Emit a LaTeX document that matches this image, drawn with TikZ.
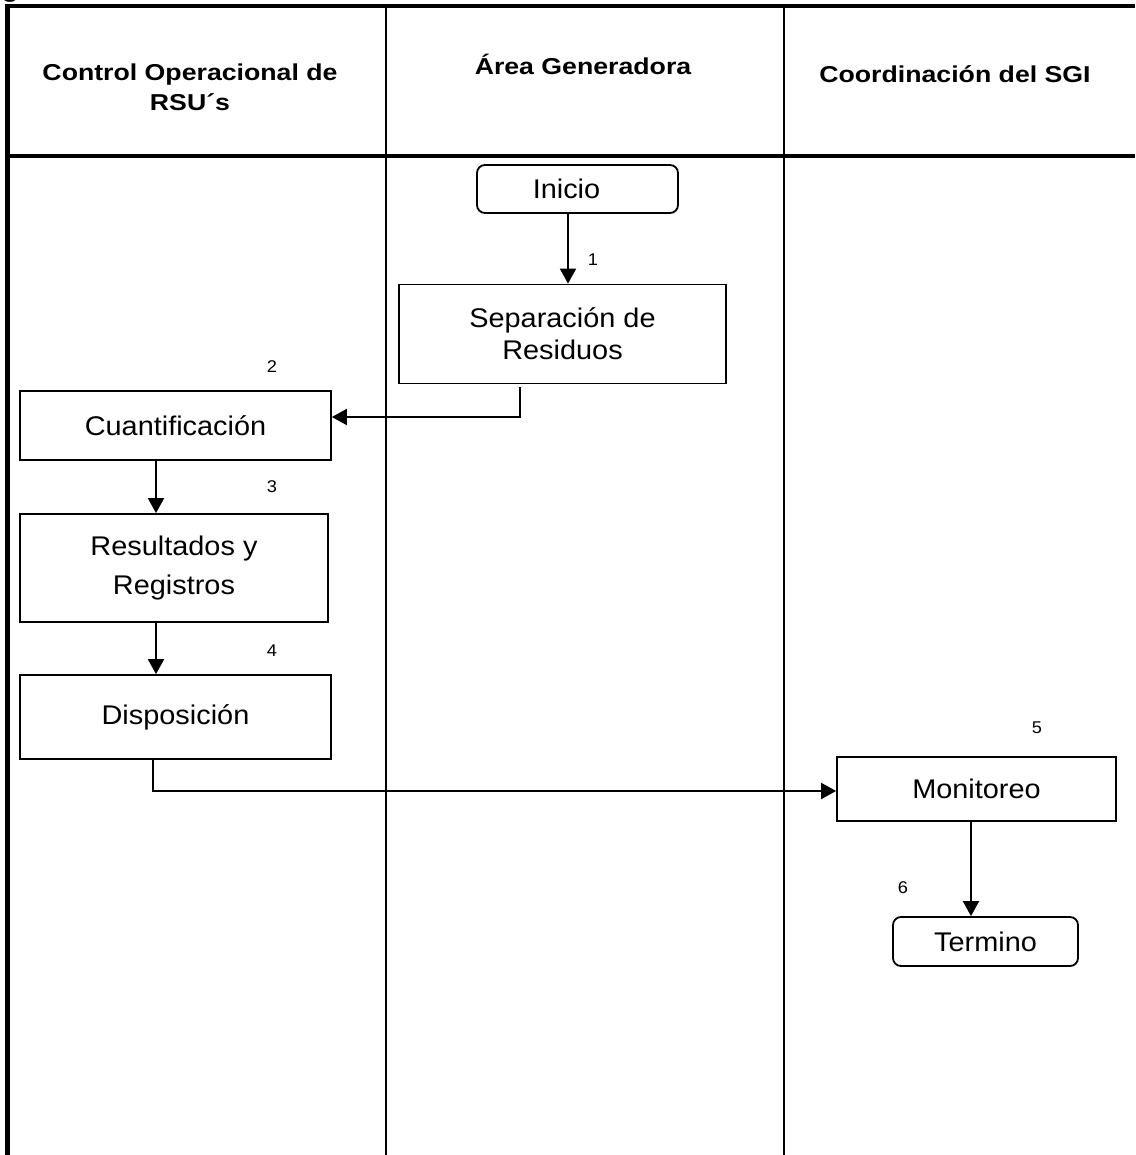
\documentclass[tikz,border=0pt]{standalone}
\usepackage{fontspec}
\setmainfont{Liberation Sans}
\newfontfamily\boxfont[FakeStretch=1.07]{Liberation Sans}
\newfontfamily\headfont[FakeStretch=1.16]{Liberation Sans}
\usetikzlibrary{arrows.meta}

\begin{document}
\begin{tikzpicture}[
  x=1pt, y=-1pt,
  flow/.style={-{Triangle[length=15pt,width=16pt]}, line width=2pt},
  frame/.style={line width=4.5pt},
  lane/.style={line width=2pt},
  box/.style={draw, line width=1.8pt, inner sep=0pt, align=center,
              font=\boxfont\fontsize{27}{34}\selectfont},
  terminal/.style={box, rounded corners=8pt},
  head/.style={font=\headfont\bfseries\fontsize{23}{30}\selectfont,
               align=center, inner sep=0pt},
  num/.style={font=\boxfont\fontsize{17}{20}\selectfont, inner sep=0pt}
]
\useasboundingbox (0,0) rectangle (1135,1155);

% Swimlane frame
\draw[frame] (7.5,6) -- (1135,6);
\draw[frame] (7.5,4) -- (7.5,1155);
\draw[line width=3.3pt] (7.5,156) -- (1135,156);
\draw[lane] (386,6) -- (386,1155);
\draw[lane] (784,6) -- (784,1155);

% Lane titles
\node[head, anchor=base west] (cut) at (2,-2) {g};
\node[head] (hctrl) at (190,87) {Control Operacional de\\RSU´s};
\node[head, anchor=base] (harea) at (583,75) {Área Generadora};
\node[head, anchor=base] (hsgi) at (955,83) {Coordinación del SGI};

% Process steps
\node[terminal, minimum width=201pt, minimum height=48pt] (inicio) at (577.5,189) {\hspace*{-22pt}Inicio};
\node[box, minimum width=327pt, minimum height=99pt,
      font=\boxfont\fontsize{27}{32}\selectfont] (sep) at (562.5,334) {Separación de\\Residuos};
\node[box, minimum width=311pt, minimum height=69pt] (cuant) at (175.5,425.5) {Cuantificación};
\node[box, minimum width=308pt, minimum height=108pt,
      font=\boxfont\fontsize{27}{39}\selectfont] (result) at (174,568) {Resultados y\\Registros};
\node[box, minimum width=311pt, minimum height=84pt] (disp) at (175.5,717) {Disposición};
\node[box, minimum width=279pt, minimum height=64pt] (mon) at (976.5,789) {Monitoreo};
\node[terminal, minimum width=185pt, minimum height=49pt] (term) at (985.5,941.5) {Termino};

% Step numbers
\node[num] (n1) at (593,260) {1};
\node[num] (n2) at (272,367) {2};
\node[num] (n3) at (272,487) {3};
\node[num] (n4) at (272,651) {4};
\node[num] (n5) at (1037,728) {5};
\node[num] (n6) at (903,888) {6};

% Flow
\draw[flow] ([xshift=-9.5pt]inicio.south) -- ([xshift=-9.5pt]inicio.south |- sep.north);
\draw[flow] ([xshift=-42.5pt,yshift=-3pt]sep.south) |- ([yshift=8.5pt]cuant.east);
\draw[flow] ([xshift=-19.5pt]cuant.south) -- ([xshift=-19.5pt]cuant.south |- result.north);
\draw[flow] ([xshift=-18pt]result.south) -- ([xshift=-18pt]result.south |- disp.north);
\draw[flow] ([xshift=-22.5pt]disp.south) |- ([yshift=-2pt]mon.west);
\draw[flow] ([xshift=-5.5pt]mon.south) -- ([xshift=-5.5pt]mon.south |- term.north);

\end{tikzpicture}
\end{document}
